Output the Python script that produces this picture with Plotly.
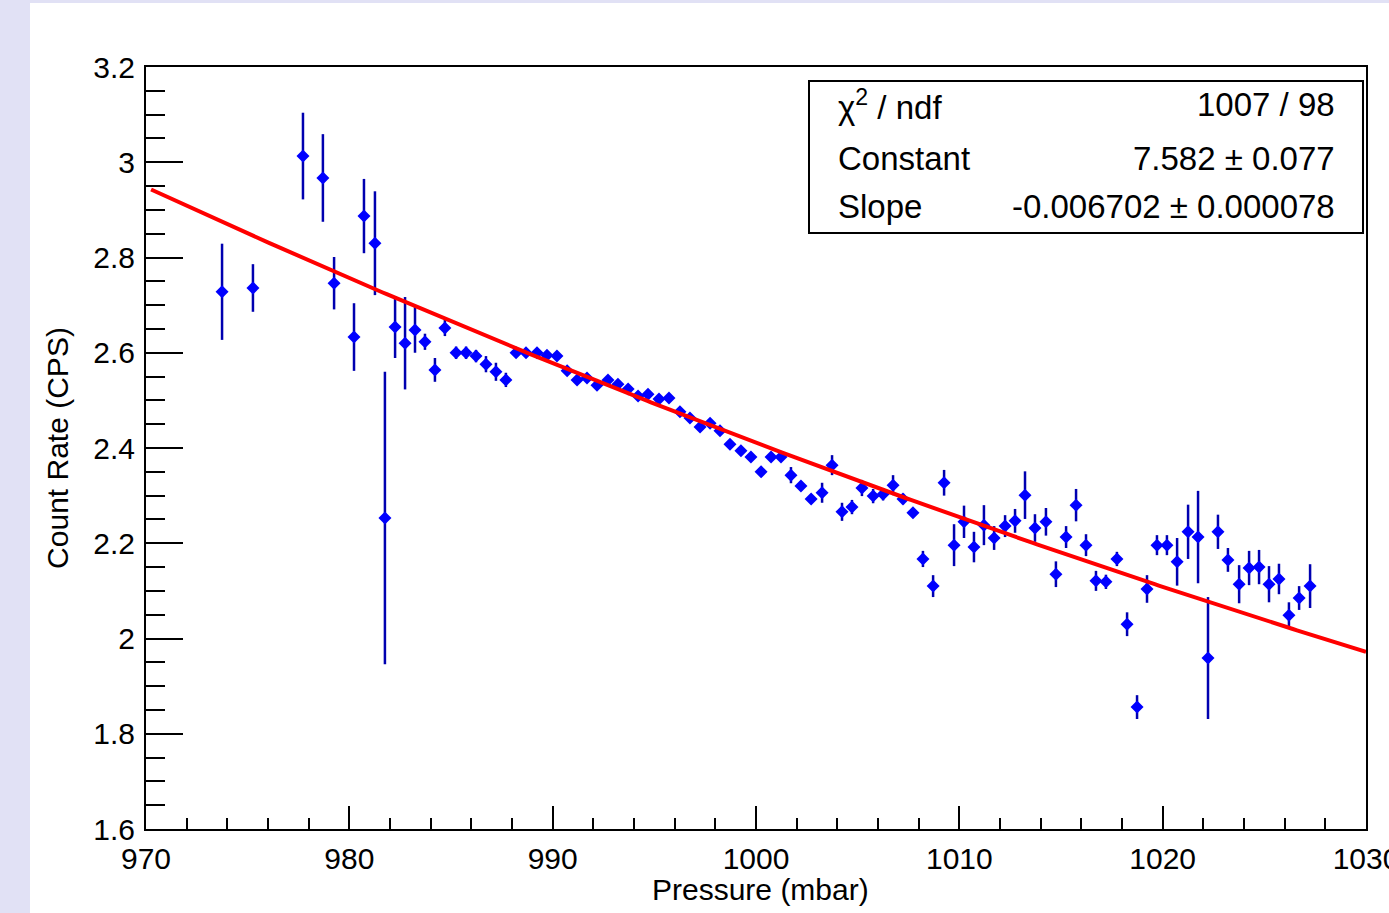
import numpy as np
import plotly.graph_objects as go

# ---------------- data ----------------
pressure = [973.74, 975.26, 977.72, 978.70, 979.25, 980.23, 980.72, 981.26, 981.75, 982.25,
            982.74, 983.23, 983.72, 984.21, 984.70, 985.25, 985.74, 986.23, 986.72, 987.21,
            987.70, 988.20, 988.69, 989.23, 989.72, 990.21, 990.71, 991.20, 991.69, 992.18,
            992.72, 993.21, 993.71, 994.20, 994.69, 995.23, 995.72, 996.26, 996.75, 997.25,
            997.74, 998.23, 998.72, 999.26, 999.75, 1000.25, 1000.74, 1001.23, 1001.72, 1002.21,
            1002.71, 1003.25, 1003.74, 1004.23, 1004.72, 1005.21, 1005.76, 1006.25, 1006.74, 1007.23,
            1007.72, 1008.21, 1008.71, 1009.25, 1009.74, 1010.23, 1010.72, 1011.21, 1011.71, 1012.25,
            1012.74, 1013.23, 1013.72, 1014.26, 1014.75, 1015.25, 1015.74, 1016.23, 1016.72, 1017.21,
            1017.75, 1018.25, 1018.74, 1019.23, 1019.72, 1020.21, 1020.71, 1021.25, 1021.74, 1022.23,
            1022.72, 1023.21, 1023.76, 1024.25, 1024.74, 1025.23, 1025.72, 1026.21, 1026.71, 1027.25]

count_rate = [2.728, 2.736, 3.013, 2.967, 2.746, 2.633, 2.887, 2.830, 2.253, 2.654,
              2.620, 2.648, 2.623, 2.564, 2.652, 2.600, 2.600, 2.593, 2.576, 2.560,
              2.543, 2.600, 2.600, 2.600, 2.595, 2.593, 2.562, 2.543, 2.547, 2.532,
              2.543, 2.534, 2.524, 2.509, 2.513, 2.503, 2.505, 2.476, 2.463, 2.444,
              2.452, 2.436, 2.408, 2.394, 2.381, 2.350, 2.381, 2.381, 2.343, 2.320,
              2.293, 2.306, 2.364, 2.266, 2.276, 2.316, 2.299, 2.303, 2.322, 2.293,
              2.264, 2.167, 2.110, 2.327, 2.196, 2.245, 2.192, 2.238, 2.211, 2.236,
              2.247, 2.301, 2.232, 2.245, 2.135, 2.213, 2.280, 2.196, 2.121, 2.119,
              2.167, 2.030, 1.856, 2.104, 2.196, 2.196, 2.161, 2.224, 2.213, 1.959,
              2.224, 2.165, 2.114, 2.148, 2.150, 2.114, 2.125, 2.049, 2.085, 2.110]

rate_error = [0.101, 0.050, 0.091, 0.092, 0.055, 0.071, 0.078, 0.109, 0.307, 0.065,
              0.097, 0.048, 0.017, 0.025, 0.017, 0.013, 0.013, 0.013, 0.017, 0.019,
              0.015, 0.006, 0.005, 0.005, 0.005, 0.005, 0.006, 0.006, 0.006, 0.006,
              0.006, 0.006, 0.006, 0.006, 0.006, 0.006, 0.006, 0.006, 0.006, 0.006,
              0.006, 0.006, 0.006, 0.006, 0.006, 0.008, 0.006, 0.006, 0.017, 0.010,
              0.006, 0.021, 0.021, 0.019, 0.015, 0.017, 0.015, 0.013, 0.021, 0.011,
              0.008, 0.017, 0.023, 0.027, 0.044, 0.034, 0.032, 0.042, 0.025, 0.023,
              0.025, 0.050, 0.029, 0.029, 0.027, 0.023, 0.034, 0.023, 0.021, 0.015,
              0.015, 0.025, 0.025, 0.029, 0.021, 0.021, 0.050, 0.057, 0.097, 0.128,
              0.036, 0.025, 0.040, 0.036, 0.036, 0.038, 0.032, 0.027, 0.025, 0.046]

# exponential fit  f(p) = exp(Constant + Slope * p)
fit_constant = 7.582
fit_constant_err = 0.077
fit_slope = -0.006702
fit_slope_err = 0.000078
chi2 = 1007
ndf = 98

x_range = [970, 1030]
y_range = [1.6, 3.2]
x_title = "Pressure (mbar)"
y_title = "Count Rate (CPS)"

# ---------------- figure ----------------
W, H = 1389, 913
L, R, T, B = 146, 23, 67, 84
pw, ph = W - L - R, H - T - B


def px_x(px):
    return (px - L) / pw


def px_y(py):
    return (H - B - py) / ph


fig = go.Figure()

fit_x = np.linspace(970.25, 1030, 300)
fit_y = np.exp(fit_constant + fit_slope * fit_x)

fig.add_trace(go.Scatter(
    x=pressure, y=count_rate, mode="markers",
    marker=dict(symbol="diamond", size=10, color="#0000ff", line=dict(width=0)),
    error_y=dict(type="data", array=rate_error, visible=True, color="#0000b0",
                 thickness=2.5, width=0),
    error_x=dict(type="constant", value=0.2, visible=True, color="#0000ff",
                 thickness=2, width=0),
    showlegend=False, hoverinfo="x+y",
))

fig.add_trace(go.Scatter(
    x=fit_x, y=fit_y, mode="lines", line=dict(color="#ff0000", width=4),
    showlegend=False, hoverinfo="skip", cliponaxis=True,
))

font_family = "Liberation Sans, Arial, Helvetica, sans-serif"

fig.update_layout(
    width=W, height=H,
    margin=dict(l=L, r=R, t=T, b=B, pad=0, autoexpand=False),
    paper_bgcolor="white",
    plot_bgcolor="white",
    font=dict(family=font_family, color="black", size=30),
    xaxis=dict(
        range=x_range, showgrid=False, zeroline=False, automargin=False,
        showline=True, linecolor="black", linewidth=2, mirror=True,
        ticks="inside", ticklen=23, tickwidth=1.5, tickcolor="black",
        dtick=10, tick0=970,
        minor=dict(ticks="inside", ticklen=11, tickwidth=1.5, tickcolor="black", dtick=2),
        tickfont=dict(size=30, family=font_family),
        ticklabelstandoff=2, ticklabeloverflow="allow",
    ),
    yaxis=dict(
        range=y_range, showgrid=False, zeroline=False, automargin=False,
        showline=True, linecolor="black", linewidth=2, mirror=True,
        ticks="inside", ticklen=37, tickwidth=1.5, tickcolor="black",
        dtick=0.2, tick0=1.6,
        minor=dict(ticks="inside", ticklen=19, tickwidth=1.5, tickcolor="black", dtick=0.05),
        tickfont=dict(size=30, family=font_family),
        ticklabelstandoff=3, ticklabeloverflow="allow",
        title=dict(text=y_title, font=dict(size=30, family=font_family), standoff=16),
    ),
)

# x-axis title placed precisely
fig.add_annotation(xref="paper", yref="paper", x=px_x(760), y=px_y(889),
                   text=x_title, showarrow=False, xanchor="center", yanchor="middle",
                   font=dict(size=30, family=font_family, color="black"))

# canvas background: lavender strips on the left and top
lav = "#e1e1f5"
fig.add_shape(type="rect", xref="paper", yref="paper",
              x0=px_x(0), x1=px_x(30), y0=px_y(H), y1=px_y(0),
              fillcolor=lav, line=dict(width=0), layer="below")
fig.add_shape(type="rect", xref="paper", yref="paper",
              x0=px_x(0), x1=px_x(W), y0=px_y(3), y1=px_y(0),
              fillcolor=lav, line=dict(width=0), layer="below")

# statistics box
fig.add_shape(type="rect", xref="paper", yref="paper",
              x0=px_x(809), x1=px_x(1363), y0=px_y(233), y1=px_y(81),
              fillcolor="white", line=dict(color="black", width=2), layer="above")

rows = [
    ("χ<sup>2</sup> / ndf", f"{chi2} / {ndf}", 105),
    ("Constant", f"{fit_constant:.3f} ± {fit_constant_err:.3f}", 159),
    ("Slope", f"{fit_slope:.6f} ± {fit_slope_err:.6f}", 207),
]
for label, value, ypx in rows:
    fig.add_annotation(xref="paper", yref="paper", x=px_x(836), y=px_y(ypx),
                       text=label, showarrow=False, xanchor="left", yanchor="middle",
                       font=dict(size=33, family=font_family, color="black"))
    fig.add_annotation(xref="paper", yref="paper", x=px_x(1337), y=px_y(ypx),
                       text=value, showarrow=False, xanchor="right", yanchor="middle",
                       font=dict(size=33, family=font_family, color="black"))

fig.write_html(
    "out.html",
    config={"displayModeBar": False},
    post_script="document.body.style.margin='0';document.body.style.overflow='hidden';",
)
